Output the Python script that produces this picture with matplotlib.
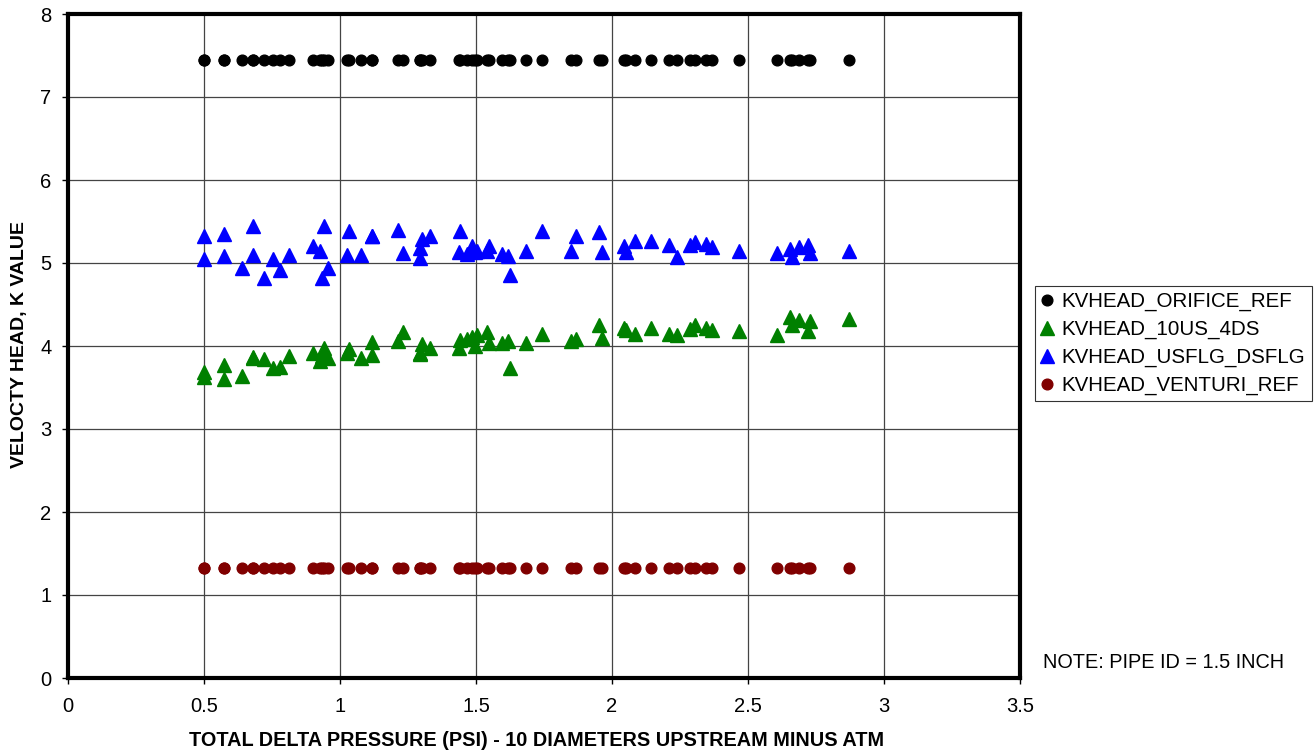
import matplotlib
matplotlib.use("Agg")
import matplotlib.pyplot as plt

# total delta pressure (psi), same points for every series
delta_p = [0.50, 0.50, 0.575, 0.575, 0.640, 0.680, 0.680, 0.719, 0.754, 0.779,
           0.811, 0.902, 0.926, 0.934, 0.940, 0.955, 1.025, 1.033, 1.077, 1.119,
           1.117, 1.215, 1.231, 1.295, 1.295, 1.301, 1.332, 1.439, 1.442, 1.467,
           1.485, 1.497, 1.504, 1.541, 1.547, 1.596, 1.618, 1.626, 1.682, 1.741,
           1.850, 1.868, 1.953, 1.962, 2.044, 2.050, 2.084, 2.145, 2.210, 2.240,
           2.287, 2.304, 2.345, 2.367, 2.468, 2.605, 2.656, 2.662, 2.689, 2.720,
           2.729, 2.871]

k_orifice = [7.44] * len(delta_p)
k_venturi = [1.33] * len(delta_p)

k_usflg_dsflg = [5.32, 5.05, 5.35, 5.08, 4.94, 5.44, 5.10, 4.82, 5.05, 4.92,
                 5.10, 5.20, 5.15, 4.82, 5.44, 4.94, 5.10, 5.38, 5.10, 5.33,
                 5.33, 5.40, 5.12, 5.18, 5.06, 5.29, 5.32, 5.13, 5.38, 5.11,
                 5.21, 5.13, 5.15, 5.15, 5.20, 5.11, 5.09, 4.86, 5.15, 5.38,
                 5.15, 5.32, 5.37, 5.13, 5.21, 5.13, 5.27, 5.26, 5.22, 5.07,
                 5.22, 5.25, 5.23, 5.19, 5.14, 5.12, 5.17, 5.07, 5.19, 5.22,
                 5.12, 5.15]

k_10us_4ds = [3.69, 3.63, 3.77, 3.60, 3.64, 3.86, 3.87, 3.84, 3.74, 3.75,
              3.88, 3.92, 3.82, 3.88, 3.98, 3.86, 3.92, 3.96, 3.86, 4.05,
              3.89, 4.06, 4.17, 3.92, 3.90, 4.02, 3.98, 3.98, 4.07, 4.09,
              4.11, 4.00, 4.13, 4.17, 4.04, 4.04, 4.06, 3.74, 4.04, 4.15,
              4.06, 4.09, 4.25, 4.10, 4.22, 4.19, 4.15, 4.22, 4.14, 4.13,
              4.21, 4.25, 4.22, 4.19, 4.18, 4.13, 4.35, 4.25, 4.31, 4.18,
              4.30, 4.33]

x_ticks = [0, 0.5, 1, 1.5, 2, 2.5, 3, 3.5]
y_ticks = [0, 1, 2, 3, 4, 5, 6, 7, 8]


def main():
    plt.rcParams['font.family'] = ['Liberation Sans', 'DejaVu Sans']
    fig = plt.figure(figsize=(13.14, 7.5), dpi=100)
    ax = fig.add_axes([68 / 1314, 72 / 750, 952 / 1314, 664 / 750])

    ax.plot(delta_p, k_orifice, 'o', color='black', markersize=7.7,
            label='KVHEAD_ORIFICE_REF', zorder=3)
    ax.plot(delta_p, k_10us_4ds, '^', color='#008000', markersize=10,
            label='KVHEAD_10US_4DS', zorder=3)
    ax.plot(delta_p, k_usflg_dsflg, '^', color='#0000ff', markersize=10,
            label='KVHEAD_USFLG_DSFLG', zorder=3)
    ax.plot(delta_p, k_venturi, 'o', color='#800000', markersize=7.7,
            label='KVHEAD_VENTURI_REF', zorder=3)

    ax.set_xlim(0, 3.5)
    ax.set_ylim(0, 8)
    ax.set_xticks(x_ticks)
    ax.set_xticklabels(['0', '0.5', '1', '1.5', '2', '2.5', '3', '3.5'])
    ax.set_yticks(y_ticks)
    ax.grid(True, color='#444444', linewidth=0.9)
    ax.set_axisbelow(True)
    for sp in ax.spines.values():
        sp.set_linewidth(3)
        sp.set_color('black')
    ax.tick_params(direction='out', length=4, width=1, labelsize=14.5)
    ax.tick_params(axis='x', pad=10)
    ax.tick_params(axis='y', pad=8)

    ax.set_xlabel('TOTAL DELTA PRESSURE (PSI) - 10 DIAMETERS UPSTREAM MINUS ATM',
                  fontsize=14.3, fontweight='bold')
    ax.xaxis.set_label_coords((537 - 68) / 952, -(741 - 678) / 664)
    ax.xaxis.label.set_va('center')
    ax.set_ylabel('VELOCTY HEAD, K VALUE', fontsize=14, fontweight='bold')
    ax.yaxis.set_label_coords(-(68 - 20) / 952, (678 - 345) / 664)
    ax.yaxis.label.set_va('center')

    leg = fig.legend(loc='upper left', bbox_to_anchor=(1035 / 1314, 1 - 286 / 750),
                     fontsize=14.8, frameon=True, fancybox=False, shadow=False,
                     handlelength=0.6, handletextpad=0.4, borderpad=0.3,
                     labelspacing=0.42, borderaxespad=0)
    leg.get_frame().set_edgecolor('black')
    leg.get_frame().set_linewidth(0.8)

    fig.text(1043 / 1314, 1 - 663 / 750, 'NOTE: PIPE ID = 1.5 INCH',
             fontsize=14.3, va='center', ha='left')

    fig.savefig('out.png', dpi=100)


if __name__ == "__main__":
    main()
